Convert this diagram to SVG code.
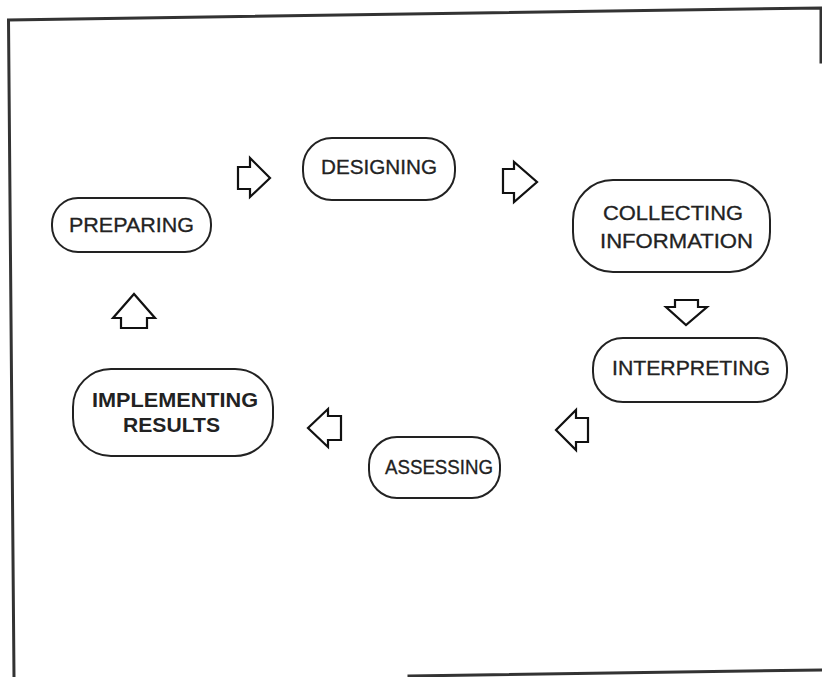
<svg xmlns="http://www.w3.org/2000/svg" width="822" height="677" viewBox="0 0 822 677">
  <style>
    .frame { fill: none; stroke: #333; stroke-width: 3; stroke-linecap: square; }
    .pill { fill: #fff; stroke: #222; stroke-width: 2; }
    .label { font-family: "Liberation Sans", Arial, sans-serif; font-size: 20px; fill: #222; stroke: #222; stroke-width: 0.3; text-anchor: middle; }
    .bold { font-weight: bold; stroke-width: 0; }
    .arrow { fill: #fff; stroke: #111; stroke-width: 2.2; stroke-linejoin: miter; }
  </style>

  <rect x="0" y="0" width="822" height="677" fill="#fff"/>

  <!-- page border -->
  <g id="frame">
    <polyline class="frame" points="14,677 8.5,20 821,8 821,62"/>
    <line class="frame" x1="409" y1="676" x2="822" y2="670"/>
  </g>

  <!-- process cycle arrows -->
  <g id="connectors">
    <path class="arrow" d="M238,167 H250 V158 L270,178 L250,197 V189 H238 Z"/>
    <path class="arrow" d="M503,169 H514 V162 L537,182 L514,202 V193 H503 Z"/>
    <path class="arrow" d="M675,300 H698 V307 H707 L686,325 L666,307 H675 Z"/>
    <path class="arrow" d="M588,418 H576 V410 L556,430 L576,450 V442 H588 Z"/>
    <path class="arrow" d="M341,416 H328 V409 L308,428 L328,447 V440 H341 Z"/>
    <path class="arrow" d="M121,328 V318 H113 L134,294 L155,318 H147 V328 Z"/>
  </g>

  <g id="preparing">
    <rect class="pill" x="52" y="198" width="159" height="54" rx="26" ry="26"/>
    <text class="label" x="131.5" y="232" textLength="125" lengthAdjust="spacingAndGlyphs">PREPARING</text>
  </g>

  <g id="designing">
    <rect class="pill" x="303" y="138" width="152" height="62" rx="29" ry="29"/>
    <text class="label" x="379" y="174" textLength="116" lengthAdjust="spacingAndGlyphs">DESIGNING</text>
  </g>

  <g id="collecting-information">
    <rect class="pill" x="573" y="180" width="197" height="92" rx="40" ry="40"/>
    <text class="label" x="673" y="220" textLength="140" lengthAdjust="spacingAndGlyphs">COLLECTING</text>
    <text class="label" x="676.5" y="248" textLength="153" lengthAdjust="spacingAndGlyphs">INFORMATION</text>
  </g>

  <g id="interpreting">
    <rect class="pill" x="593" y="338" width="194" height="64" rx="30" ry="30"/>
    <text class="label" x="691" y="375" textLength="158" lengthAdjust="spacingAndGlyphs">INTERPRETING</text>
  </g>

  <g id="assessing">
    <rect class="pill" x="369" y="437" width="131" height="61" rx="28" ry="28"/>
    <text class="label" x="439" y="474" textLength="108" lengthAdjust="spacingAndGlyphs">ASSESSING</text>
  </g>

  <g id="implementing-results">
    <rect class="pill" x="73" y="369" width="200" height="87" rx="38" ry="38"/>
    <text class="label bold" x="175" y="407" textLength="166" lengthAdjust="spacingAndGlyphs">IMPLEMENTING</text>
    <text class="label bold" x="171.5" y="432" textLength="97" lengthAdjust="spacingAndGlyphs">RESULTS</text>
  </g>
</svg>
